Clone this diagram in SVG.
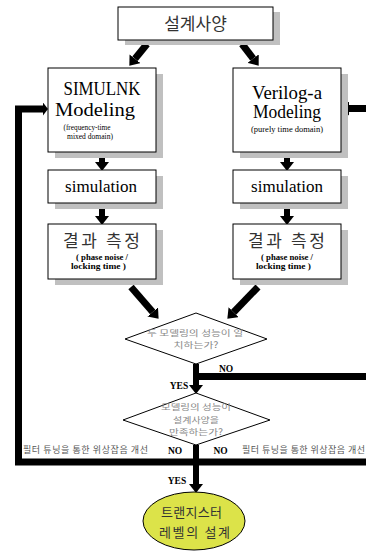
<svg xmlns="http://www.w3.org/2000/svg" width="366" height="551" viewBox="0 0 366 551">
<defs>
<style>
.box{fill:#ffffff;stroke:#000000;stroke-width:1}
.sh{fill:#c0c0c0}
.kr{font-family:"Noto Sans CJK KR","Noto Sans",sans-serif;fill:#333333;text-anchor:middle}
.kg{font-family:"Noto Sans CJK KR","Noto Sans",sans-serif;fill:#888888;text-anchor:middle;font-size:8.5px}
.sf{font-family:"Liberation Serif","Times New Roman",serif;fill:#000000;text-anchor:middle}
.lb{font-family:"Liberation Serif","Times New Roman",serif;font-weight:bold;font-size:9.5px;fill:#000000;text-anchor:middle}
.ft{font-family:"Noto Sans CJK KR","Noto Sans",sans-serif;fill:#555555;font-size:9px}
.cn{fill:none;stroke:#000000;stroke-linejoin:miter;stroke-linecap:butt}
</style>
<marker id="ah" markerUnits="userSpaceOnUse" markerWidth="9" markerHeight="14" refX="0" refY="7" orient="auto" viewBox="0 0 9 14"><path d="M0,0 L9,7 L0,14 z" fill="#000000"/></marker>
<marker id="ahs" markerUnits="userSpaceOnUse" markerWidth="5" markerHeight="13" refX="0" refY="6.5" orient="auto" viewBox="0 0 5 13"><path d="M0,0 L5,6.5 L0,13 z" fill="#000000"/></marker>
</defs>
<rect width="366" height="551" fill="#ffffff"/>

<g id="connectors">
<line class="cn" x1="147" y1="44" x2="135" y2="58.8" stroke-width="7" marker-end="url(#ah)"/>
<line class="cn" x1="242" y1="44" x2="253.2" y2="58.6" stroke-width="7" marker-end="url(#ah)"/>
<line class="cn" x1="102" y1="152" x2="102" y2="162" stroke-width="6" marker-end="url(#ah)"/>
<line class="cn" x1="102" y1="203" x2="102" y2="216" stroke-width="6" marker-end="url(#ah)"/>
<line class="cn" x1="287" y1="152" x2="287" y2="162" stroke-width="6" marker-end="url(#ah)"/>
<line class="cn" x1="287" y1="203" x2="287" y2="216" stroke-width="6" marker-end="url(#ah)"/>
<line class="cn" x1="131" y1="287" x2="152.7" y2="312" stroke-width="7" marker-end="url(#ah)"/>
<line class="cn" x1="258" y1="287" x2="233.6" y2="312.2" stroke-width="7" marker-end="url(#ah)"/>
<line class="cn" x1="196" y1="364" x2="196" y2="385" stroke-width="6" marker-end="url(#ah)"/>
<line class="cn" x1="193" y1="376.5" x2="366" y2="376.5" stroke-width="7"/>
<line class="cn" x1="196" y1="445" x2="196" y2="484" stroke-width="6" marker-end="url(#ah)"/>
<path class="cn" d="M366,462 H18.5 V109 H43" stroke-width="7" marker-end="url(#ahs)"/>
<line class="cn" x1="366" y1="108.5" x2="349" y2="108.5" stroke-width="7" marker-end="url(#ah)"/>
</g>

<g id="node-spec">
<rect class="sh" x="125" y="12" width="155" height="33"/>
<rect class="box" x="118" y="7" width="155" height="33"/>
<text class="kr" x="195.5" y="30" font-size="17">설계사양</text>
</g>

<g id="node-simulink">
<rect class="sh" x="55" y="74" width="108" height="84"/>
<rect class="box" x="48" y="68" width="108" height="84"/>
<text class="sf" x="102" y="95" font-size="18" textLength="77" lengthAdjust="spacingAndGlyphs">SIMULNK</text>
<text class="sf" x="95" y="116" font-size="18" textLength="80" lengthAdjust="spacingAndGlyphs">Modeling</text>
<text class="sf" x="87" y="129.5" font-size="7.5" textLength="47" lengthAdjust="spacingAndGlyphs">(frequency-time</text>
<text class="sf" x="90" y="138.5" font-size="7.5" textLength="46" lengthAdjust="spacingAndGlyphs">mixed domain)</text>
</g>

<g id="node-verilog">
<rect class="sh" x="240" y="74" width="108" height="84"/>
<rect class="box" x="233" y="68" width="108" height="84"/>
<text class="sf" x="287" y="99" font-size="18" textLength="70" lengthAdjust="spacingAndGlyphs">Verilog-a</text>
<text class="sf" x="287" y="118" font-size="18" textLength="68" lengthAdjust="spacingAndGlyphs">Modeling</text>
<text class="sf" x="287" y="132" font-size="7.5" textLength="72" lengthAdjust="spacingAndGlyphs">(purely time domain)</text>
</g>

<g id="node-sim-left">
<rect class="sh" x="55" y="176" width="108" height="33"/>
<rect class="box" x="48" y="170" width="108" height="33"/>
<text class="sf" x="101" y="192" font-size="17">simulation</text>
</g>

<g id="node-sim-right">
<rect class="sh" x="240" y="176" width="108" height="33"/>
<rect class="box" x="233" y="170" width="108" height="33"/>
<text class="sf" x="287" y="192" font-size="17">simulation</text>
</g>

<g id="node-result-left">
<rect class="sh" x="55" y="230" width="108" height="55"/>
<rect class="box" x="48" y="224" width="108" height="55"/>
<text class="kr" x="101.5" y="247" font-size="17" textLength="77" lengthAdjust="spacing">결과 측정</text>
<text class="sf" x="102" y="260" font-size="7.5" font-weight="bold" textLength="52" lengthAdjust="spacingAndGlyphs">( phase noise /</text>
<text class="sf" x="98.5" y="269" font-size="7.5" font-weight="bold" textLength="55" lengthAdjust="spacingAndGlyphs">locking time )</text>
</g>

<g id="node-result-right">
<rect class="sh" x="240" y="230" width="108" height="55"/>
<rect class="box" x="233" y="224" width="108" height="55"/>
<text class="kr" x="286.5" y="247" font-size="17" textLength="77" lengthAdjust="spacing">결과 측정</text>
<text class="sf" x="287" y="260" font-size="7.5" font-weight="bold" textLength="52" lengthAdjust="spacingAndGlyphs">( phase noise /</text>
<text class="sf" x="283.5" y="269" font-size="7.5" font-weight="bold" textLength="55" lengthAdjust="spacingAndGlyphs">locking time )</text>
</g>

<g id="node-decision-match">
<polygon points="196,313 267,339 196,364 125,339" fill="#ffffff" stroke="#000000" stroke-width="1"/>
<text class="kg" x="195" y="335.5" textLength="96" lengthAdjust="spacingAndGlyphs">두 모델링의 성능이 일</text>
<text class="kg" x="196" y="348" textLength="45" lengthAdjust="spacingAndGlyphs">치하는가?</text>
</g>

<g id="node-decision-spec">
<polygon points="196,393 270,420 196,445 123,420" fill="#ffffff" stroke="#000000" stroke-width="1"/>
<text class="kg" x="196" y="410" textLength="70" lengthAdjust="spacingAndGlyphs">모델링의 성능이</text>
<text class="kg" x="196" y="422.5" textLength="46" lengthAdjust="spacingAndGlyphs">설계사양을</text>
<text class="kg" x="196" y="435" textLength="54" lengthAdjust="spacingAndGlyphs">만족하는가?</text>
</g>

<g id="labels">
<text class="lb" x="226" y="371.5">NO</text>
<text class="lb" x="179" y="388.5">YES</text>
<text class="lb" x="175" y="453.5">NO</text>
<text class="lb" x="220.5" y="453.5">NO</text>
<text class="lb" x="177" y="483.5">YES</text>
<text class="ft" x="23" y="453" textLength="125" lengthAdjust="spacing">필터 튜닝을 통한 위상잡음 개선</text>
<text class="ft" x="242" y="453" textLength="123" lengthAdjust="spacing">필터 튜닝을 통한 위상잡음 개선</text>
</g>

<g id="node-transistor">
<ellipse cx="194" cy="521" rx="51" ry="29" fill="#dce349" stroke="#000000" stroke-width="1"/>
<text class="kr" x="191.5" y="517" font-size="13" textLength="61" lengthAdjust="spacing">트랜지스터</text>
<text class="kr" x="194.5" y="537" font-size="13" textLength="71" lengthAdjust="spacing">레벨의 설계</text>
</g>
</svg>
